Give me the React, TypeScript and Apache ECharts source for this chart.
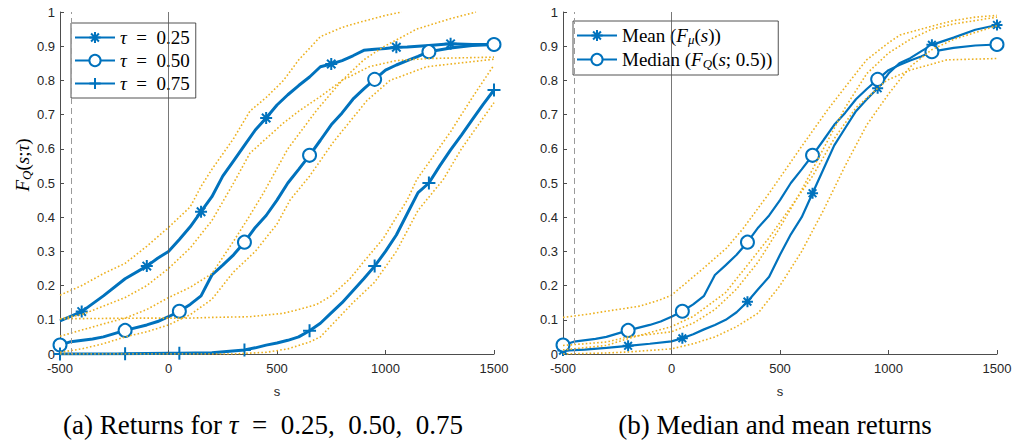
import * as echarts from "echarts";
import { useEffect, useRef } from "react";

const BLUE = "#0072BD";
const ORANGE = "#EDB120";
const AXIS = "#262626";

// reference lines (s values)
const refLines = [-450, 0];

// s positions of the markers
const markA = [-400, -100, 150, 450, 750, 1050, 1300, 1500];
const markB = [-500, -200, 50, 350, 650, 950, 1200, 1500];

const tauLabels = ["0.25", "0.50", "0.75"];

// (a) quantile curves
const q25 = [
  [-500, 0.097], [-400, 0.124], [-300, 0.17], [-200, 0.22], [-100, 0.257], [-50, 0.28],
  [0, 0.3], [50, 0.335], [100, 0.372], [150, 0.416], [200, 0.46], [250, 0.52],
  [300, 0.565], [350, 0.61], [400, 0.655], [450, 0.69], [500, 0.728], [550, 0.758],
  [600, 0.785], [650, 0.81], [700, 0.84], [750, 0.848], [800, 0.858], [850, 0.872],
  [900, 0.888], [950, 0.891], [1000, 0.893], [1050, 0.897], [1100, 0.898], [1200, 0.902],
  [1300, 0.907], [1400, 0.905], [1500, 0.905],
];
const q50 = [
  [-500, 0.026], [-450, 0.036], [-350, 0.044], [-300, 0.05], [-200, 0.069], [-100, 0.085],
  [-50, 0.095], [0, 0.109], [50, 0.125], [100, 0.145], [150, 0.17], [200, 0.231],
  [250, 0.26], [300, 0.29], [350, 0.327], [400, 0.37], [450, 0.405], [500, 0.45],
  [550, 0.5], [600, 0.54], [650, 0.581], [700, 0.625], [750, 0.67], [800, 0.705],
  [850, 0.745], [900, 0.775], [950, 0.803], [1000, 0.83], [1050, 0.845], [1100, 0.858],
  [1150, 0.87], [1200, 0.884], [1300, 0.895], [1400, 0.902], [1500, 0.905],
];
const q75 = [
  [-500, 0], [-200, 0.001], [0, 0.002], [50, 0.002], [200, 0.004], [350, 0.012],
  [400, 0.018], [450, 0.026], [500, 0.032], [550, 0.04], [600, 0.05], [650, 0.068],
  [700, 0.09], [750, 0.12], [800, 0.15], [850, 0.185], [900, 0.22], [950, 0.257],
  [1000, 0.3], [1050, 0.348], [1100, 0.41], [1150, 0.472], [1200, 0.5], [1250, 0.55],
  [1300, 0.597], [1350, 0.64], [1400, 0.685], [1450, 0.73], [1500, 0.772],
];

// (a) confidence bands
const u25 = [
  [-500, 0.172], [-400, 0.2], [-300, 0.235], [-200, 0.265], [-100, 0.315], [0, 0.37],
  [100, 0.43], [150, 0.49], [200, 0.54], [300, 0.63], [375, 0.71], [450, 0.75],
  [530, 0.8], [600, 0.86], [700, 0.928], [800, 0.955], [880, 0.97], [1000, 0.99], [1075, 1.0],
];
const l25 = [
  [-500, 0.103], [-400, 0.115], [-300, 0.14], [-200, 0.165], [-100, 0.2], [0, 0.25],
  [100, 0.31], [200, 0.39], [300, 0.5], [375, 0.587], [450, 0.63], [529, 0.675],
  [600, 0.71], [698, 0.752], [800, 0.8], [925, 0.84], [1050, 0.858], [1200, 0.864], [1500, 0.868],
];
const u50 = [
  [-500, 0.052], [-400, 0.07], [-300, 0.088], [-200, 0.105], [-100, 0.13], [0, 0.165],
  [100, 0.195], [200, 0.235], [300, 0.33], [370, 0.4], [437, 0.47], [550, 0.6],
  [683, 0.713], [800, 0.8], [900, 0.86], [990, 0.898], [1144, 0.95], [1297, 0.98], [1417, 1.0],
];
const l50 = [
  [-500, 0.005], [-400, 0.015], [-300, 0.03], [-200, 0.05], [-100, 0.065], [0, 0.085],
  [100, 0.115], [200, 0.16], [300, 0.24], [400, 0.3], [500, 0.38], [560, 0.45],
  [650, 0.52], [760, 0.62], [913, 0.74], [1021, 0.8], [1190, 0.84], [1500, 0.862],
];
const u75 = [
  [-500, 0.103], [-300, 0.104], [-100, 0.105], [100, 0.105], [200, 0.107], [375, 0.109],
  [529, 0.119], [600, 0.13], [683, 0.145], [750, 0.17], [836, 0.22], [900, 0.27],
  [990, 0.338], [1050, 0.4], [1100, 0.45], [1144, 0.51], [1200, 0.56], [1300, 0.65],
  [1400, 0.75], [1500, 0.845],
];
const l75 = [
  [-500, 0], [300, 0], [450, 0.005], [550, 0.015], [650, 0.035], [700, 0.05],
  [760, 0.09], [850, 0.15], [950, 0.21], [1050, 0.3], [1150, 0.42], [1266, 0.51],
  [1350, 0.6], [1450, 0.69], [1500, 0.735],
];

// (b) mean and median
const meanCurve = [
  [-500, 0.01], [-400, 0.013], [-300, 0.018], [-200, 0.024], [-100, 0.03], [0, 0.037],
  [50, 0.046], [100, 0.058], [150, 0.072], [200, 0.085], [250, 0.1], [300, 0.122],
  [350, 0.153], [400, 0.19], [450, 0.226], [500, 0.29], [550, 0.35], [600, 0.4],
  [650, 0.47], [700, 0.54], [750, 0.61], [800, 0.66], [850, 0.71], [900, 0.745],
  [950, 0.777], [1000, 0.82], [1050, 0.85], [1100, 0.865], [1150, 0.885], [1200, 0.904],
  [1300, 0.925], [1400, 0.948], [1500, 0.962],
];
const medianCurve = q50;

const uMed = [
  [-500, 0.107], [-400, 0.115], [-300, 0.125], [-146, 0.14], [-54, 0.158], [0, 0.172],
  [146, 0.25], [254, 0.31], [330, 0.367], [450, 0.47], [592, 0.6], [715, 0.71],
  [800, 0.78], [899, 0.86], [1000, 0.91], [1054, 0.933], [1208, 0.96], [1300, 0.975],
  [1400, 0.985], [1500, 0.99],
];
const lMed = [
  [-500, 0.012], [-300, 0.025], [-200, 0.045], [0, 0.08], [100, 0.11], [250, 0.18],
  [350, 0.26], [450, 0.34], [550, 0.43], [650, 0.52], [750, 0.63], [850, 0.72],
  [991, 0.8], [1100, 0.83], [1269, 0.86], [1500, 0.864],
];
const uMean = [
  [-500, 0.025], [-300, 0.035], [-200, 0.05], [0, 0.065], [100, 0.09], [200, 0.13],
  [300, 0.19], [400, 0.27], [500, 0.37], [600, 0.48], [700, 0.6], [800, 0.72],
  [900, 0.82], [1000, 0.88], [1100, 0.92], [1200, 0.95], [1300, 0.965], [1500, 0.985],
];
const lMean = [
  [-500, 0], [-300, 0.003], [-200, 0.006], [0, 0.015], [100, 0.03], [200, 0.05],
  [300, 0.08], [400, 0.12], [500, 0.2], [600, 0.3], [700, 0.42], [800, 0.55],
  [900, 0.67], [1000, 0.76], [1100, 0.84], [1200, 0.89], [1300, 0.92], [1500, 0.96],
];

const STAR = "path://M0,-1L0,1M-1,0L1,0M-0.7,-0.7L0.7,0.7M-0.7,0.7L0.7,-0.7";
const PLUS = "path://M0,-1L0,1M-1,0L1,0";

const SERIF = "'Liberation Serif', serif";
const SANS = "'Liberation Sans', Arial, sans-serif";

const rich = {
  r: { fontFamily: SERIF, fontSize: 19, color: "#000" },
  i: { fontFamily: SERIF, fontSize: 19, fontStyle: "italic", color: "#000" },
  sub: { fontFamily: SERIF, fontSize: 13, fontStyle: "italic", color: "#000", padding: [8, 0, 0, 0] },
};

const capRich = {
  r: { fontFamily: SERIF, fontSize: 27, color: "#000" },
  i: { fontFamily: SERIF, fontSize: 27, fontStyle: "italic", color: "#000" },
};

function curve(name: string, data: number[][], marks: number[], symbol: string, size: number, width: number, axis: number) {
  return {
    name,
    type: "line",
    xAxisIndex: axis,
    yAxisIndex: axis,
    data,
    symbol,
    showSymbol: true,
    showAllSymbol: true,
    symbolKeepAspect: true,
    symbolSize: (v: number[]) => (marks.includes(v[0]) ? size : 0),
    lineStyle: { color: BLUE, width },
    itemStyle: { color: BLUE, borderColor: BLUE, borderWidth: 2 },
    z: 3,
  };
}

function band(data: number[][], axis: number) {
  return {
    type: "line",
    xAxisIndex: axis,
    yAxisIndex: axis,
    data,
    showSymbol: false,
    lineStyle: { color: ORANGE, width: 1.6, type: [1.6, 2.2] },
    z: 4,
  };
}

function refSeries(axis: number) {
  return {
    type: "line",
    xAxisIndex: axis,
    yAxisIndex: axis,
    data: [],
    markLine: {
      silent: true,
      symbol: "none",
      label: { show: false },
      data: refLines.map((s, k) => ({
        xAxis: s,
        lineStyle: k === 0 ? { type: [6, 4], color: "#9a9a9a", width: 1 } : { type: "solid", color: "#555", width: 0.8 },
      })),
    },
    z: 2,
  };
}

function xAxis(index: number) {
  return {
    type: "value",
    gridIndex: index,
    min: -500,
    max: 1500,
    interval: 500,
    name: "s",
    nameLocation: "middle",
    nameGap: 31,
    nameTextStyle: { fontFamily: SANS, fontSize: 13, color: AXIS },
    axisLine: { lineStyle: { color: "#4d4d4d", width: 1 } },
    axisTick: { inside: true, length: 4, lineStyle: { color: "#4d4d4d" } },
    axisLabel: { fontFamily: SANS, fontSize: 13, color: AXIS, margin: 8, formatter: (v: number) => String(v) },
    splitLine: { show: false },
  };
}

function yAxis(index: number) {
  return {
    type: "value",
    gridIndex: index,
    min: 0,
    max: 1,
    interval: 0.1,
    name: index === 0 ? "{i|F}{sub|Q}{r|(}{i|s}{r|;}{i|τ}{r|)}" : "",
    nameLocation: "middle",
    nameRotate: 90,
    nameGap: 25,
    nameTextStyle: { rich, padding: [0, 0, 0, 36] },
    axisLine: { onZero: false, lineStyle: { color: "#4d4d4d", width: 1 } },
    axisTick: { inside: true, length: 4, lineStyle: { color: "#4d4d4d" } },
    axisLabel: { fontFamily: SANS, fontSize: 13, color: AXIS, margin: 5 },
    splitLine: { show: false },
  };
}

const legendBase = {
  orient: "vertical",
  backgroundColor: "#fff",
  borderColor: AXIS,
  borderWidth: 0.8,
  borderRadius: 0,
  itemWidth: 40,
  itemHeight: 14,
  itemGap: 4,
  textStyle: { rich, lineHeight: 19 },
};

export default function App() {
  const chartRef = useRef<HTMLDivElement | null>(null);

  useEffect(() => {
    document.body.style.margin = "0";
    if (!chartRef.current) return;
    const chart = echarts.init(chartRef.current, undefined, { renderer: "svg" });

    const tauNames = tauLabels.map((t) => `τ = ${t}`);

    chart.setOption({
      animation: false,
      backgroundColor: "#fff",
      grid: [
        { left: 60, top: 12, width: 434, height: 342 },
        { left: 563, top: 12, width: 434, height: 342 },
      ],
      xAxis: [xAxis(0), xAxis(1)],
      yAxis: [yAxis(0), yAxis(1)],
      legend: [
        {
          ...legendBase,
          left: 71,
          top: 23,
          padding: [5, 6, 5, 3],
          data: tauNames,
          formatter: (n: string) => `{i|τ}{r|  =  ${n.split("=")[1].trim()}}`,
        },
        {
          ...legendBase,
          left: 573,
          top: 21,
          padding: [5, 6, 5, 3],
          data: ["Mean", "Median"],
          formatter: (n: string) =>
            n === "Mean"
              ? "{r|Mean (}{i|F}{sub|μ}{r|(}{i|s}{r|))}"
              : "{r|Median (}{i|F}{sub|Q}{r|(}{i|s}{r|; 0.5))}",
        },
      ],
      graphic: [
        {
          type: "text",
          x: 263,
          y: 411,
          style: {
            text: "{r|(a) Returns for }{i|τ}{r|  =  0.25,  0.50,  0.75}",
            align: "center",
            rich: capRich,
          },
        },
        {
          type: "text",
          x: 775,
          y: 411,
          style: {
            text: "{r|(b) Median and mean returns}",
            align: "center",
            rich: capRich,
          },
        },
      ],
      series: [
        refSeries(0),
        curve(tauNames[0], q25, markA, STAR, 12, 3, 0),
        curve(tauNames[1], q50, markB, "emptyCircle", 13, 3, 0),
        curve(tauNames[2], q75, markB, PLUS, 13, 3, 0),
        band(u25, 0),
        band(l25, 0),
        band(u50, 0),
        band(l50, 0),
        band(u75, 0),
        band(l75, 0),
        refSeries(1),
        curve("Mean", meanCurve, markB, STAR, 11, 2.2, 1),
        curve("Median", medianCurve, markB, "emptyCircle", 13, 2.2, 1),
        band(uMed, 1),
        band(lMed, 1),
        band(uMean, 1),
        band(lMean, 1),
      ],
    });

    return () => {
      chart.dispose();
    };
  }, []);

  return <div ref={chartRef} style={{ width: 1015, height: 445 }} />;
}
